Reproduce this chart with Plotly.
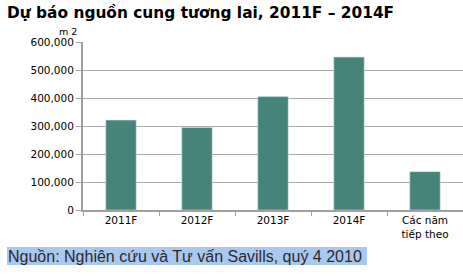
import plotly.graph_objects as go

categories = ["2011F", "2012F", "2013F", "2014F", "Các năm<br>tiếp theo"]
values = [321000, 295000, 405000, 546000, 137000]
y_ticks = [0, 100000, 200000, 300000, 400000, 500000, 600000]
y_tick_text = ["0", "100,000", "200,000", "300,000", "400,000", "500,000", "600,000"]

W, H = 463, 276
L, R, T, B = 83, 0, 42, 66

fig = go.Figure(go.Bar(
    x=categories, y=values,
    marker=dict(color="#46837a", line=dict(color="#cfe3df", width=0.6)),
    width=0.4,
))

tick_font = dict(family="DejaVu Sans", size=10.5, color="black")

fig.update_layout(
    width=W, height=H,
    margin=dict(l=L, r=R, t=T, b=B),
    paper_bgcolor="white", plot_bgcolor="white",
    showlegend=False,
    font=dict(family="Liberation Sans, Arial", color="black"),
    xaxis=dict(
        type="category",
        showline=True, linecolor="#a0a0a0", linewidth=1.5,
        ticks="outside", tickson="boundaries", ticklen=4, tickcolor="#a0a0a0",
        tickfont=tick_font, showgrid=False,
    ),
    yaxis=dict(
        range=[0, 600000],
        tickvals=y_ticks, ticktext=y_tick_text,
        showline=True, linecolor="#a0a0a0", linewidth=2,
        ticks="outside", ticklen=5, tickcolor="#a0a0a0",
        showgrid=True, gridcolor="#a8a8a8", gridwidth=1,
        tickfont=tick_font, zeroline=False,
    ),
)

pw = W - L - R
ph = H - T - B
def px_x(x):
    return (x - L) / pw
def px_y(y):
    return 1 - (y - T) / ph

fig.add_annotation(
    text="<b>Dự báo nguồn cung tương lai, 2011F – 2014F</b>",
    xref="paper", yref="paper",
    x=px_x(5), y=px_y(1),
    xanchor="left", yanchor="top",
    showarrow=False, font=dict(family="DejaVu Sans", size=15.4, color="black"),
)
fig.add_annotation(
    text="m 2",
    xref="paper", yref="paper",
    x=px_x(79), y=px_y(24),
    xanchor="right", yanchor="top",
    showarrow=False, font=dict(family="DejaVu Sans", size=9.5, color="black"),
)

# source note with highlight
fig.add_shape(type="rect", xref="paper", yref="paper",
              x0=px_x(7), x1=px_x(367), y0=px_y(265), y1=px_y(247),
              fillcolor="#a9c8f0", line=dict(width=0), layer="below")
fig.add_annotation(
    text="Nguồn: Nghiên cứu và Tư vấn Savills, quý 4 2010",
    xref="paper", yref="paper",
    x=px_x(6), y=px_y(256),
    xanchor="left", yanchor="middle",
    showarrow=False, font=dict(family="Liberation Sans", size=16, color="#2a2a2a"),
)

fig.write_html("out.html")
